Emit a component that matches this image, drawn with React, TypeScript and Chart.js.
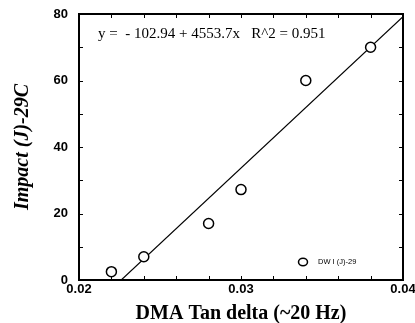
import { useEffect, useRef } from "react";
import { Chart, registerables } from "chart.js";
Chart.register(...registerables);

const tanDelta = [0.022, 0.024, 0.028, 0.03, 0.034, 0.038];
const impact = [2.5, 7.0, 17.0, 27.2, 60.0, 70.0];
const intercept = -102.94;
const slope = 4553.7;
const rSquared = 0.951;
const fitRange = [0.02, 0.04];
const xTickLabels = [0.02, 0.03, 0.04];
const yTickLabels = [0, 20, 40, 60, 80];
const seriesLabel = "DW I (J)-29";
const xTitle = "DMA Tan delta (~20 Hz)";
const yTitle = "Impact (J)-29C";

const framePlugin = {
  id: "frame",
  afterDatasetsDraw(chart: any) {
    const { ctx, chartArea: a, scales } = chart;
    const x = scales.x;
    const y = scales.y;
    ctx.save();
    ctx.strokeStyle = "#000";
    ctx.lineWidth = 1;
    ctx.beginPath();
    for (const t of x.ticks) {
      const px = Math.round(x.getPixelForValue(t.value)) + 0.5;
      ctx.moveTo(px, a.bottom);
      ctx.lineTo(px, a.bottom - 4);
      ctx.moveTo(px, a.top);
      ctx.lineTo(px, a.top + 4);
    }
    for (const t of y.ticks) {
      const py = Math.round(y.getPixelForValue(t.value)) + 0.5;
      ctx.moveTo(a.left, py);
      ctx.lineTo(a.left + 4, py);
      ctx.moveTo(a.right, py);
      ctx.lineTo(a.right - 4, py);
    }
    ctx.stroke();
    ctx.lineWidth = 2;
    ctx.strokeRect(a.left, a.top, a.width, a.height);

    ctx.fillStyle = "#000";
    ctx.font = '15px "Liberation Serif"';
    ctx.textBaseline = "alphabetic";
    ctx.textAlign = "left";
    ctx.fillText(
      `y =  - ${Math.abs(intercept)} + ${slope}x   R^2 = ${rSquared}`,
      a.left + 19,
      a.top + 24
    );

    // legend
    const lx = a.left + 224;
    const ly = a.bottom - 18;
    ctx.lineWidth = 1.5;
    ctx.beginPath();
    ctx.ellipse(lx, ly, 4.5, 3.8, 0, 0, Math.PI * 2);
    ctx.fillStyle = "#fff";
    ctx.fill();
    ctx.stroke();
    ctx.fillStyle = "#000";
    ctx.font = '7.5px "Liberation Sans"';
    ctx.textBaseline = "middle";
    ctx.fillText(chart.data.datasets[0].label, lx + 15, ly);
    ctx.restore();
  },
};

export default function App() {
  const ref = useRef<HTMLCanvasElement>(null);
  useEffect(() => {
    const chart = new Chart(ref.current!, {
      type: "scatter",
      data: {
        datasets: [
          {
            type: "scatter",
            label: seriesLabel,
            data: tanDelta.map((v, i) => ({ x: v, y: impact[i] })),
            pointRadius: 5,
            pointBorderWidth: 1.5,
            borderColor: "#000",
            backgroundColor: "#fff",
            order: 0,
          },
          {
            type: "line",
            label: "fit",
            data: fitRange.map((v) => ({ x: v, y: intercept + slope * v })),
            borderColor: "#000",
            borderWidth: 1.2,
            pointRadius: 0,
            fill: false,
            order: 1,
          } as any,
        ],
      },
      options: {
        responsive: false,
        animation: false,
        layout: { padding: { left: 0, right: 12, top: 14, bottom: 0 } },
        plugins: { legend: { display: false }, tooltip: { enabled: false } },
        scales: {
          x: {
            type: "linear",
            min: 0.02,
            max: 0.04,
            grid: { display: false, drawTicks: false },
            border: { display: false },
            ticks: {
              stepSize: 0.002,
              autoSkip: false,
              maxRotation: 0,
              padding: 2,
              color: "#000",
              font: { family: "Liberation Sans", size: 13, weight: "bold" },
              callback: (v: any) => {
                const hit = xTickLabels.find((t) => Math.abs(t - v) < 1e-6);
                return hit !== undefined ? hit.toFixed(2) : "";
              },
            },
            title: {
              display: true,
              text: xTitle,
              color: "#000",
              padding: { top: 0, bottom: 0 },
              font: { family: "Liberation Serif", size: 20, weight: "bold", lineHeight: 0.9 },
            },
            afterFit: (s: any) => {
              s.height = 43;
              s.paddingLeft = 0;
              s.paddingRight = 0;
            },
          },
          y: {
            type: "linear",
            min: 0,
            max: 80,
            grid: { display: false, drawTicks: false },
            border: { display: false },
            ticks: {
              stepSize: 10,
              autoSkip: false,
              padding: 11,
              color: "#000",
              font: { family: "Liberation Sans", size: 13, weight: "bold" },
              callback: (v: any) => (yTickLabels.includes(v) ? String(v) : ""),
            },
            title: {
              display: true,
              text: yTitle,
              color: "#000",
              padding: { top: 11, bottom: 0 },
              font: { family: "Liberation Serif", size: 20, weight: "bold", style: "italic" },
            },
            afterFit: (s: any) => {
              s.width = 79;
              s.paddingTop = 0;
              s.paddingBottom = 0;
            },
          },
        },
      },
      plugins: [framePlugin],
    });
    return () => chart.destroy();
  }, []);
  return (
    <div style={{ position: "absolute", left: 0, top: 0, width: 415, height: 323, background: "#fff" }}>
      <canvas ref={ref} width={415} height={323} />
    </div>
  );
}
